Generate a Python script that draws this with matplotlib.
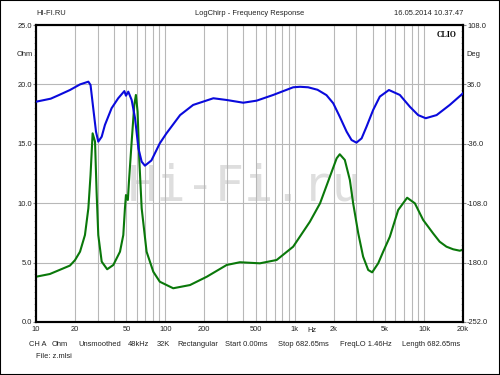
import matplotlib.pyplot as plt
from matplotlib.patches import Rectangle

# impedance magnitude (Ohm), green curve
imp_freq = [10, 12.8, 16.3, 18.3, 20, 21.9, 23.9, 25.4, 26.4, 27.4,
            28.6, 29.4, 30.3, 32.2, 35.5, 39.6, 44.6, 47.3, 48.7, 49.6,
            51.3, 52.3, 54.9, 57.5, 59.2, 61, 62.8, 65.6, 71.6, 80.7,
            90.6, 115, 155, 209, 298, 377, 538, 725, 973, 1310,
            1570, 1870, 2110, 2230, 2440, 2670, 2830, 3100, 3380, 3700,
            3970, 4420, 4830, 5440, 6310, 7400, 8490, 9840, 11750, 13200,
            14900, 16800, 18900, 20000]
imp_ohm = [3.81, 4.04, 4.52, 4.75, 5.2, 5.92, 7.32, 9.57, 12.37, 15.88,
           15.18, 10.97, 7.32, 5.08, 4.44, 4.8, 5.92, 7.32, 9.57, 10.69,
           10.27, 11.81, 15.18, 18.27, 19.11, 17.70, 13.78, 9.57, 5.92, 4.23,
           3.39, 2.84, 3.11, 3.81, 4.80, 5.03, 4.94, 5.22, 6.34, 8.44,
           9.99, 12.23, 13.78, 14.12, 13.64, 11.95, 9.99, 7.46, 5.50, 4.38,
           4.18, 4.94, 5.92, 7.18, 9.43, 10.46, 9.99, 8.59, 7.46, 6.76,
           6.34, 6.12, 6.0, 6.1]

# impedance phase (Deg), blue curve
ph_freq = [10, 13, 15, 18.3, 21.9, 25.4, 26.4, 27.7, 29.1, 30.3,
           32.2, 34.1, 38.4, 43.2, 48.2, 49.6, 51.7, 54.9, 58.3, 61.9,
           65.6, 69.5, 78, 90.6, 102, 130, 164, 235, 298, 400,
           508, 682, 973, 1100, 1270, 1500, 1760, 1986, 2230, 2520,
           2750, 3000, 3290, 3590, 4040, 4550, 5350, 6500, 7770, 9000,
           10300, 12500, 15800, 20000]
ph_deg = [15.0, 18.7, 23.0, 29.2, 36.0, 39.3, 35.3, 7.1, -21.3, -33.4,
          -27.4, -13.2, 7.1, 19.2, 27.9, 22.3, 27.2, 17.1, -5.0, -41.5,
          -57.7, -62.5, -56.2, -35.4, -23.3, -1.2, 11.1, 19.2, 17.1, 13.8,
          16.3, 23.2, 32.5, 33.1, 32.5, 29.5, 23.0, 13.1, -3.2, -21.3,
          -31.4, -34.6, -29.4, -15.3, 5.0, 21.2, 29.2, 23.2, 8.9, -1.2,
          -5.0, -1.2, 11.1, 25.2]

x_ticks = [10, 20, 50, 100, 200, 500, 1000, 2000, 5000, 10000, 20000]
x_labels = ['10', '20', '50', '100', '200', '500', '1k', '2k', '5k', '10k', '20k']
x_minor = [30, 40, 60, 70, 80, 90, 300, 400, 600, 700, 800, 900,
           3000, 4000, 6000, 7000, 8000, 9000]
ohm_ticks = [0, 5, 10, 15, 20, 25]
deg_ticks = [-252, -180, -108, -36, 36, 108]

info_items = ['CH A', 'Ohm', 'Unsmoothed', '48kHz', '32K', 'Rectangular',
              'Start 0.00ms', 'Stop 682.65ms', 'FreqLO 1.46Hz', 'Length 682.65ms']
info_x = [29, 52, 78, 128, 157, 177, 225, 278, 340, 402]

plt.rcParams['font.family'] = 'Liberation Sans'
fs = 5.4
txt = '#222222'

fig = plt.figure(figsize=(5, 3.75), dpi=100)
ax = fig.add_axes([36 / 500, 1 - 322 / 375, 427 / 500, 297 / 375])

# watermark
ax.text(0.49, 0.455, 'Hi-Fi.ru', transform=ax.transAxes, ha='center', va='center',
        fontsize=35, family='DejaVu Sans Mono', color='#dedede', zorder=0.5)

ax.plot(imp_freq, imp_ohm, color='#0a780a', linewidth=1.5, zorder=3)

ax.set_xscale('log')
ax.set_xlim(10, 20000)
ax.set_ylim(0, 25)
ax.set_xticks(x_ticks)
ax.set_xticklabels(x_labels)
ax.set_xticks(x_minor, minor=True)
ax.set_xticklabels([], minor=True)
ax.set_yticks(ohm_ticks)
ax.set_yticklabels(['%.1f' % v for v in ohm_ticks])
ax.set_yticks([v * 0.5 for v in range(51)], minor=True)
ax.xaxis.grid(True, which='both', color='#b8b8b8', linewidth=0.8)
ax.yaxis.grid(True, which='major', color='#b8b8b8', linewidth=0.8)
ax.set_axisbelow(True)
ax.tick_params(axis='x', which='both', length=0, labelsize=fs, labelcolor=txt, pad=3)
ax.tick_params(axis='y', which='major', length=2, color='#888888', labelsize=fs,
               labelcolor=txt, pad=1)
ax.tick_params(axis='y', which='minor', length=1.5, color='#aaaaaa')
for s in ax.spines.values():
    s.set_linewidth(1.5)

ax2 = ax.twinx()
ax2.plot(ph_freq, ph_deg, color='#0a0adc', linewidth=1.5, zorder=3)
ax2.set_ylim(-252, 108)
ax2.set_yticks(deg_ticks)
ax2.set_yticklabels(['%.1f' % v for v in deg_ticks])
ax2.set_yticks([-252 + 7.2 * i for i in range(51)], minor=True)
ax2.tick_params(axis='y', which='major', length=2, color='#888888', labelsize=fs,
                labelcolor=txt, pad=1)
ax2.tick_params(axis='y', which='minor', direction='in', length=1.5, color='#aaaaaa')
for s in ax2.spines.values():
    s.set_linewidth(1.5)

# unit labels and header
fig.text(33 / 500, 1 - 55 / 375, 'Ohm', ha='right', va='center', fontsize=fs, color=txt)
fig.text(466 / 500, 1 - 55 / 375, 'Deg', ha='left', va='center', fontsize=fs, color=txt)
fig.text(312 / 500, 1 - 331 / 375, 'Hz', ha='center', va='center', fontsize=fs, color=txt)
fig.text(36 / 500, 1 - 13.5 / 375, 'HI-FI.RU', ha='left', va='center', fontsize=fs, color=txt)
fig.text(250 / 500, 1 - 13.5 / 375, 'LogChirp - Frequency Response', ha='center',
         va='center', fontsize=fs, color=txt)
fig.text(463 / 500, 1 - 13.5 / 375, '16.05.2014 10.37.47', ha='right', va='center',
         fontsize=fs, color=txt)
ax.text(0.985, 0.965, 'CLIO', transform=ax.transAxes, ha='right', va='center',
        fontsize=5.6, family='Liberation Serif', weight='bold', color='black', zorder=5)

for label, xp in zip(info_items, info_x):
    fig.text(xp / 500, 1 - 344 / 375, label, ha='left', va='center', fontsize=fs, color=txt)
fig.text(36 / 500, 1 - 357 / 375, 'File: z.mlsi', ha='left', va='center', fontsize=fs, color=txt)

fig.patches.append(Rectangle((0, 0), 1, 1, transform=fig.transFigure, fill=False,
                             edgecolor='black', linewidth=1.5))

fig.savefig('out.png', dpi=100)
